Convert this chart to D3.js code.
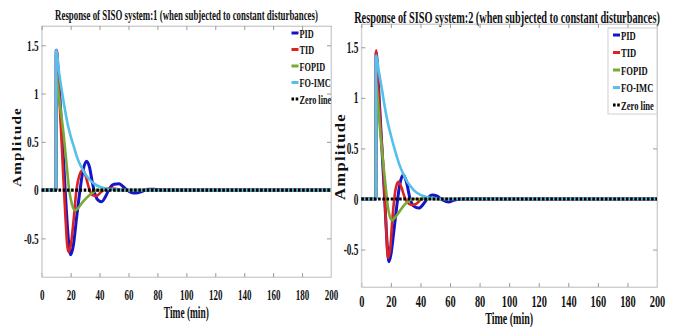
<!DOCTYPE html>
<html>
<head>
<meta charset="utf-8">
<script src="https://cdn.jsdelivr.net/npm/d3@7"></script>
<style>
  body { margin: 0; background: #fff; }
  svg { display: block; }
  text { font-family: "Liberation Serif", "Times New Roman", serif; font-weight: bold; fill: #111; }
</style>
</head>
<body>
<svg id="chart" width="677" height="327"></svg>
<script>
// axis ticks
const xTicks = [0, 20, 40, 60, 80, 100, 120, 140, 160, 180, 200];
const yTicks = [-0.5, 0, 0.5, 1, 1.5];
const seriesNames = ["PID", "TID", "FOPID", "FO-IMC"];
const zeroName = "Zero line";
const titles = [
  "Response of SISO system:1 (when subjected to constant disturbances)",
  "Response of SISO system:2 (when subjected to constant disturbances)"
];

// system 1 responses [time (min), amplitude]
const sys1PID = [[0,0],[9.9,0],[10,1.45],[11,1.3],[12.5,0.98],[14,0.6],[15.5,0.2],[17,-0.2],[18.5,-0.52],[20,-0.67],[22,-0.56],[24,-0.3],[26.5,0],[28.5,0.2],[31,0.3],[33,0.24],[35,0.08],[37,-0.05],[39.5,-0.11],[41.5,-0.12],[44,-0.07],[47,0.02],[50,0.06],[53.5,0.065],[56,0.04],[59,0],[62,-0.025],[65,-0.03],[70,-0.01],[74,0.01],[78,0.01],[84,0],[200,0]];
const sys1TID = [[0,0],[9.9,0],[10,1.4],[10.5,1.45],[12,1.02],[13.5,0.58],[15,0.12],[16.5,-0.3],[17.5,-0.55],[18.5,-0.64],[20,-0.58],[22,-0.32],[24,0],[26,0.15],[28.5,0.21],[30.5,0.14],[32.5,0.03],[35,-0.05],[38,-0.06],[41,-0.02],[44,0.01],[48,0.02],[52,0.01],[56,0],[200,0]];
const sys1FOPID = [[0,0],[9.9,0],[10,1.2],[11,1.08],[12.5,0.9],[15,0.6],[17,0.3],[19,0],[21,-0.15],[23,-0.21],[25,-0.19],[28,-0.13],[31,-0.08],[34,-0.04],[37,-0.01],[40,0],[46,0.01],[52,0],[200,0]];
const sys1FOIMC = [[0,0],[9.95,0],[10,1.45],[12,1.22],[14,1.02],[16,0.84],[18,0.68],[20,0.56],[22,0.46],[24,0.36],[26,0.28],[28,0.22],[30,0.17],[33,0.11],[36,0.07],[40,0.035],[45,0.015],[50,0.005],[55,0],[200,0]];

// system 2 responses [time (min), amplitude]
const sys2PID = [[0,0],[9.9,0],[10,1.45],[11.5,1.15],[13,0.75],[14.5,0.35],[16,-0.05],[17.5,-0.45],[18.7,-0.62],[20,-0.55],[22,-0.32],[24,-0.07],[26,0.14],[28.4,0.24],[30.5,0.17],[33,0],[35.5,-0.07],[39,-0.09],[42,-0.05],[45,0.01],[48,0.04],[51,0.03],[55,-0.01],[59,-0.03],[63,-0.01],[68,0],[200,0]];
const sys2TID = [[0,0],[9.9,0],[10,1.47],[11.5,1.1],[13,0.72],[14.9,0.32],[16.5,-0.18],[18,-0.58],[19.5,-0.5],[21,-0.2],[23,0.08],[25,0.17],[27,0.12],[29,0.03],[31,-0.03],[34,-0.06],[37,-0.05],[40,-0.01],[44,0.01],[50,0],[200,0]];
const sys2FOPID = [[0,0],[9.9,0],[10,1.15],[11,1.0],[12.7,0.68],[14.5,0.4],[16.5,0.12],[18,-0.08],[19.5,-0.18],[21,-0.21],[23,-0.18],[26,-0.12],[29,-0.06],[32,-0.02],[35,0],[200,0]];
const sys2FOIMC = [[0,0],[9.95,0],[10,1.42],[12,1.25],[14,1.08],[16,0.9],[18,0.75],[20,0.63],[22,0.52],[24,0.42],[26,0.33],[28,0.26],[30,0.2],[33,0.13],[36,0.08],[40,0.04],[44,0.02],[50,0.005],[56,0],[200,0]];

const zeroLine = [[0,0],[200,0]];

const colors = ["#1414c8", "#dc2222", "#78aa38", "#55c0ea"];
const widths = [3, 2.6, 2.6, 2.6];

const svg = d3.select("#chart");

// squeeze a text horizontally (in its own frame) so it is `len` px long
function fitText(sel, cx, cy, len, rotate) {
  const w = sel.node().getComputedTextLength();
  const s = len / w;
  sel.attr("text-anchor", "middle")
    .attr("transform", `translate(${cx},${cy})${rotate ? " rotate(-90)" : ""} scale(${s},1)`);
}

function drawPanel(p) {
  const x = d3.scaleLinear().domain([0, 200]).range([p.left, p.right]);
  const y = d3.scaleLinear().domain(p.yDomain).range([p.bottom, p.top]);
  const g = svg.append("g");

  // axes box
  g.append("rect")
    .attr("x", p.left).attr("y", p.top)
    .attr("width", p.right - p.left).attr("height", p.bottom - p.top)
    .attr("fill", "none").attr("stroke", "#d6d6d6");

  const xa = g.append("g")
    .attr("transform", `translate(0,${p.bottom})`)
    .call(d3.axisBottom(x).tickValues(xTicks).tickSizeInner(-4).tickSizeOuter(0).tickPadding(p.xPad));
  xa.selectAll("text").style("font-size", p.xFont + "px").attr("transform", `scale(${p.xSx},1)`);

  const ya = g.append("g")
    .attr("transform", `translate(${p.left},0)`)
    .call(d3.axisLeft(y).tickValues(yTicks).tickSizeInner(-4).tickSizeOuter(0).tickPadding(p.yPad).tickFormat(d => String(d)));
  ya.selectAll("text").style("font-size", p.yFont + "px")
    .attr("x", -p.yPad / p.ySx).attr("transform", `scale(${p.ySx},1)`);

  // mirrored ticks on top and right, no labels
  const ta = g.append("g").attr("transform", `translate(0,${p.top})`)
    .call(d3.axisTop(x).tickValues(xTicks).tickSizeInner(-4).tickSizeOuter(0));
  ta.selectAll("text").remove();
  const ra = g.append("g").attr("transform", `translate(${p.right},0)`)
    .call(d3.axisRight(y).tickValues(yTicks).tickSizeInner(-4).tickSizeOuter(0));
  ra.selectAll("text").remove();

  g.selectAll(".domain").attr("stroke", "#cfcfcf");
  g.selectAll(".tick line").attr("stroke", "#9a9a9a");

  // response curves
  const line = d3.line().x(d => x(d[0])).y(d => y(d[1])).curve(d3.curveMonotoneX);
  p.series.forEach((s, i) => {
    g.append("path").datum(s)
      .attr("d", line)
      .attr("fill", "none")
      .attr("stroke", colors[i])
      .attr("stroke-width", widths[i])
      .attr("stroke-linejoin", "round");
  });
  g.append("path").datum(zeroLine)
    .attr("d", d3.line().x(d => x(d[0])).y(d => y(d[1])))
    .attr("fill", "none")
    .attr("stroke", "#000")
    .attr("stroke-width", 3.2)
    .attr("stroke-dasharray", "2.6,1.6");

  // title and labels
  const title = g.append("text").text(p.title).style("font-size", p.titleFont + "px");
  fitText(title, p.titleX, p.titleY, p.titleLen, false);

  const xl = g.append("text").text("Time (min)").style("font-size", p.labFont + "px");
  fitText(xl, (p.left + p.right) / 2, p.xLabY, p.xLabLen, false);

  const yl = g.append("text").text("Amplitude").style("font-size", p.yLabFont + "px")
    .style("letter-spacing", "1px");
  fitText(yl, p.yLabX, p.yLabY, p.yLabLen, true);

  // legend
  const lg = g.append("g");
  if (p.legBox) {
    lg.append("rect")
      .attr("x", p.legBox[0]).attr("y", p.legBox[1])
      .attr("width", p.legBox[2]).attr("height", p.legBox[3])
      .attr("fill", "#fff").attr("stroke", "#d0d0d0");
  }
  const names = seriesNames.concat([zeroName]);
  names.forEach((n, i) => {
    const yy = p.legY + i * p.legStep;
    const sample = lg.append("line")
      .attr("x1", p.legX).attr("x2", p.legX + 7)
      .attr("y1", yy).attr("y2", yy)
      .attr("stroke-width", 3);
    if (i < 4) {
      sample.attr("stroke", colors[i]);
    } else {
      sample.attr("stroke", "#000").attr("stroke-dasharray", "2.6,1.6");
    }
    lg.append("text").text(n)
      .attr("transform", `translate(${p.legX + 8},${yy + 4.5}) scale(0.66,1)`)
      .style("font-size", p.legFont + "px");
  });
}

drawPanel({
  left: 41.7, right: 331, top: 26, bottom: 277, yDomain: [-0.9, 1.7],
  xPad: 12, xFont: 15, xSx: 0.6, yPad: 3, yFont: 15, ySx: 0.62,
  series: [sys1PID, sys1TID, sys1FOPID, sys1FOIMC],
  title: titles[0], titleX: 186.5, titleY: 20, titleFont: 14, titleLen: 263,
  xLabY: 318, labFont: 16, xLabLen: 45,
  yLabX: 21, yLabY: 147, yLabFont: 13, yLabLen: 80,
  legX: 291.5, legY: 33, legStep: 16.5, legFont: 12.5, legBox: null
});

drawPanel({
  left: 361.3, right: 657, top: 24, bottom: 287, yDomain: [-0.87, 1.73],
  xPad: 8, xFont: 16.5, xSx: 0.63, yPad: 3, yFont: 16, ySx: 0.58,
  series: [sys2PID, sys2TID, sys2FOPID, sys2FOIMC],
  title: titles[1], titleX: 507, titleY: 23, titleFont: 16, titleLen: 306,
  xLabY: 324, labFont: 16.5, xLabLen: 48,
  yLabX: 345, yLabY: 156.5, yLabFont: 14, yLabLen: 87,
  legX: 613, legY: 35, legStep: 17.5, legFont: 13, legBox: [608, 28, 49, 86]
});
</script>
</body>
</html>
